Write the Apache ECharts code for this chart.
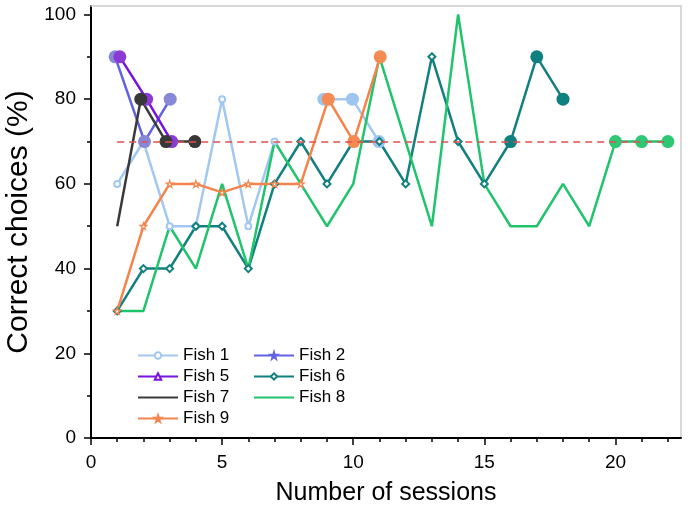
<!DOCTYPE html>
<html><head><meta charset="utf-8">
<script src="https://cdn.jsdelivr.net/npm/echarts@6/dist/echarts.min.js"></script>
<style>html,body{margin:0;padding:0;background:#fff}#chart{width:688px;height:513px}</style>
</head><body><div id="chart"></div>
<script>
// ---- data ----
const fish1X = [1, 2, 3, 4, 5, 6, 7, 8, 8.88, 9.97, 10.98];
const fish1Y = [60, 70, 50, 50, 80, 50, 70, null, 80, 80, 70];
const fish1Crit = [0, 0, 0, 0, 0, 0, 0, 0, 1, 1, 1];

const fish2X = [0.92, 2.04, 3.02];
const fish2Y = [90, 70, 80];
const fish2Crit = [1, 1, 1];

const fish5X = [1.1, 2.12, 3.08];
const fish5Y = [90, 80, 70];
const fish5Crit = [1, 1, 1];

const fish6X = [1, 2, 3, 4, 5, 6, 7, 8, 9, 10, 11, 12, 13, 14, 15, 16, 17, 18];
const fish6Y = [30, 40, 40, 50, 50, 40, 60, 70, 60, 70, 70, 60, 90, 70, 60, 70, 90, 80];
const fish6Crit = [0, 0, 0, 0, 0, 0, 0, 0, 0, 0, 0, 0, 0, 0, 0, 1, 1, 1];

const fish7X = [1, 1.9, 2.86, 3.96];
const fish7Y = [50, 80, 70, 70];
const fish7Crit = [0, 1, 1, 1];

const fish8X = [1, 2, 3, 4, 5, 6, 7, 8, 9, 10, 11, 12, 13, 14, 15, 16, 17, 18, 19, 20, 21, 22];
const fish8Y = [30, 30, 50, 40, 60, 40, 70, 60, 50, 60, 90, 70, 50, 100, 60, 50, 50, 60, 50, 70, 70, 70];
const fish8Crit = [0, 0, 0, 0, 0, 0, 0, 0, 0, 0, 0, 0, 0, 0, 0, 0, 0, 0, 0, 1, 1, 1];

const fish9X = [1, 2, 3, 4, 5, 6, 7, 8, 9.05, 10.02, 11.03];
const fish9Y = [30, 50, 60, 60, 58, 60, 60, 60, 80, 70, 90];
const fish9Crit = [0, 0, 0, 0, 0, 0, 0, 0, 1, 1, 1];

const criterionLevel = 70;
const criterionFrom = 1;
const criterionTo = 22;

const xMajorTicks = [0, 5, 10, 15, 20];
const xMinorTicks = [1, 2, 3, 4, 6, 7, 8, 9, 11, 12, 13, 14, 16, 17, 18, 19, 21, 22];
const yMajorTicks = [0, 20, 40, 60, 80, 100];
const yMinorTicks = [10, 30, 50, 70, 90];

const xRange = [0, 22.5];
const yRange = [0, 102];

// ---- styling ----
const FONT = 'Liberation Sans, Arial, Helvetica, sans-serif';
const STAR = 'path://M50,0 L61,35 L98,35 L68,57 L79,91 L50,70 L21,91 L32,57 L2,35 L39,35 Z';
const HIDDEN = 'none';

function build(name, xs, ys, crit, lineColor, dotColor, symbol, symbolSize, itemStyle) {
  const data = xs.map((x, i) => {
    if (crit[i]) {
      return { value: [x, ys[i]], symbol: 'circle', symbolSize: 13,
        itemStyle: { color: dotColor, borderColor: dotColor, borderWidth: 0, opacity: 1 } };
    }
    return [x, ys[i]];
  });
  return {
    name, type: 'line', data,
    xAxisIndex: 0, yAxisIndex: 0,
    symbol, symbolSize,
    showAllSymbol: true,
    connectNulls: false,
    lineStyle: { color: lineColor, width: 2.5 },
    itemStyle: Object.assign({ color: lineColor, borderColor: lineColor, borderWidth: 1.3 }, itemStyle || {}),
    emphasis: { disabled: true },
    animation: false,
    z: 3
  };
}

const series = [
  build('Fish 1', fish1X, fish1Y, fish1Crit, '#a2c8f2', '#9ec4f0', 'emptyCircle', 6),
  build('Fish 2', fish2X, fish2Y, fish2Crit, '#6262e2', '#8888d8', STAR, 7),
  build('Fish 5', fish5X, fish5Y, fish5Crit, '#7812de', '#8c3ad6', 'emptyTriangle', 7),
  build('Fish 6', fish6X, fish6Y, fish6Crit, '#12807f', '#0f8080', 'emptyDiamond', 7),
  build('Fish 7', fish7X, fish7Y, fish7Crit, '#3a3a3a', '#383838', HIDDEN, 6),
  build('Fish 8', fish8X, fish8Y, fish8Crit, '#20c46c', '#2ec874', HIDDEN, 6),
  build('Fish 9', fish9X, fish9Y, fish9Crit, '#f5844c', '#f58a52', STAR, 7,
        { color: '#fff', borderColor: '#f5844c', borderWidth: 1.2 })
];

series[series.length - 1].markLine = {
  silent: true, symbol: 'none', animation: false,
  label: { show: false },
  lineStyle: { color: '#e05050', type: [7, 5], width: 1.5 },
  data: [[{ coord: [criterionFrom, criterionLevel] }, { coord: [criterionTo, criterionLevel] }]],
  z: 10
};

const legendBase = {
  orient: 'vertical', top: 347, padding: 0, itemWidth: 40, itemHeight: 8, itemGap: 4,
  textStyle: { fontFamily: FONT, fontSize: 17, color: '#000', lineHeight: 17 },
  selectedMode: false
};

const option = {
  animation: false,
  backgroundColor: '#fff',
  grid: { left: 91, right: 7, top: 6, bottom: 75, containLabel: false, outerBoundsMode: 'none' },
  legend: [
    Object.assign({}, legendBase, { left: 137, data: ['Fish 1', 'Fish 5', { name: 'Fish 7', itemStyle: { opacity: 0 } }, 'Fish 9'] }),
    Object.assign({}, legendBase, { left: 253, data: ['Fish 2', 'Fish 6', { name: 'Fish 8', itemStyle: { opacity: 0 } }] })
  ],
  xAxis: [
    {
      type: 'value', min: xRange[0], max: xRange[1], position: 'bottom',
      name: 'Number of sessions', nameLocation: 'middle', nameGap: 43,
      nameTextStyle: { fontFamily: FONT, fontSize: 25, color: '#000' },
      axisLine: { show: true, onZero: false, lineStyle: { color: '#000', width: 2 } },
      axisTick: { show: true, inside: false, length: 7, customValues: xMajorTicks, lineStyle: { color: '#000', width: 1.5 } },
      axisLabel: { show: true, customValues: xMajorTicks, margin: 15, fontFamily: FONT, fontSize: 19, color: '#000' },
      splitLine: { show: false }
    },
    {
      type: 'value', min: xRange[0], max: xRange[1], position: 'bottom',
      axisLine: { show: false, onZero: false },
      axisTick: { show: true, inside: false, length: 4, customValues: xMinorTicks, lineStyle: { color: '#000', width: 1.5 } },
      axisLabel: { show: false },
      splitLine: { show: false }
    },
    {
      type: 'value', min: xRange[0], max: xRange[1], position: 'top',
      axisLine: { show: true, onZero: false, lineStyle: { color: '#cccccc', width: 1.5 } },
      axisTick: { show: false }, axisLabel: { show: false }, splitLine: { show: false }
    }
  ],
  yAxis: [
    {
      type: 'value', min: yRange[0], max: yRange[1], position: 'left',
      name: 'Correct choices (%)', nameLocation: 'middle', nameGap: 57,
      nameTextStyle: { fontFamily: FONT, fontSize: 30, color: '#000' },
      axisLine: { show: true, onZero: false, lineStyle: { color: '#000', width: 2 } },
      axisTick: { show: true, inside: false, length: 7, customValues: yMajorTicks, lineStyle: { color: '#000', width: 1.5 } },
      axisLabel: { show: true, customValues: yMajorTicks, margin: 15, fontFamily: FONT, fontSize: 19, color: '#000' },
      splitLine: { show: false }
    },
    {
      type: 'value', min: yRange[0], max: yRange[1], position: 'left',
      axisLine: { show: false, onZero: false },
      axisTick: { show: true, inside: false, length: 4, customValues: yMinorTicks, lineStyle: { color: '#000', width: 1.5 } },
      axisLabel: { show: false },
      splitLine: { show: false }
    },
    {
      type: 'value', min: yRange[0], max: yRange[1], position: 'right',
      axisLine: { show: true, onZero: false, lineStyle: { color: '#cccccc', width: 1.5 } },
      axisTick: { show: false }, axisLabel: { show: false }, splitLine: { show: false }
    }
  ],
  series
};

const chart = echarts.init(document.getElementById('chart'), null, { renderer: 'canvas' });
chart.setOption(option);
</script>
</body></html>
